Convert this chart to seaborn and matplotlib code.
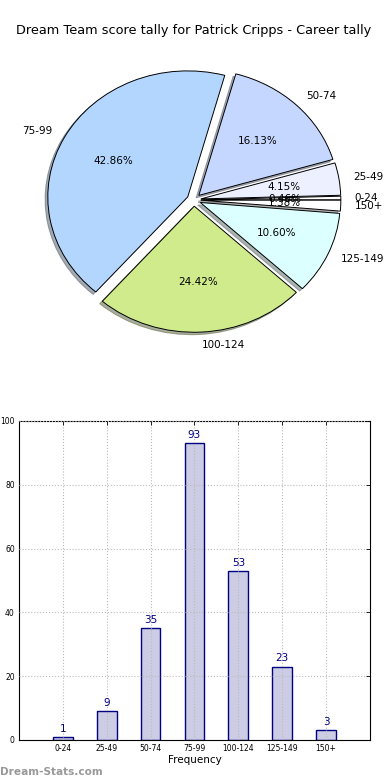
import pandas as pd
import matplotlib
matplotlib.use("Agg")
import matplotlib.pyplot as plt
import seaborn as sns

# score bands and how often each was hit
bands = ["0-24", "25-49", "50-74", "75-99", "100-124", "125-149", "150+"]
counts = [1, 9, 35, 93, 53, 23, 3]
pie_colors = ["#ffffff", "#edf0ff", "#c6d7ff", "#b3d6ff", "#d0eb8c", "#dcffff", "#ffffff"]

player = "Patrick Cripps"

sns.set_style("white")
plt.rcParams["font.family"] = ["DejaVu Sans"]
plt.rcParams.update({"text.color": "black", "axes.labelcolor": "black",
                     "xtick.color": "black", "ytick.color": "black"})

fig = plt.figure(figsize=(3.9, 7.8), dpi=100)

# --- pie (not forced to equal aspect, like the old matplotlib) ---
ax1 = fig.add_axes([0.0487, 0.5417, 0.897, 0.404])
ax1.pie(counts, labels=bands, colors=pie_colors, explode=[0.05] * len(counts),
        autopct="%1.2f%%", shadow={"ox": -0.014, "oy": -0.014, "shade": 0.6},
        startangle=0,
        wedgeprops={"edgecolor": "black", "linewidth": 0.7},
        textprops={"fontsize": 7.5, "color": "black"})
ax1.set_aspect("auto")
ax1.set_title(f"Dream Team score tally for {player} - Career tally", fontsize=9.3)

# --- bar chart ---
ax2 = fig.add_axes([0.0487, 0.0513, 0.9, 0.409])
df = pd.DataFrame({"band": bands, "count": counts})
sns.barplot(data=df, x="band", y="count", order=bands, width=0.45,
            color=(0, 0, 0.5, 0.2), edgecolor="navy", linewidth=1,
            saturation=1, ax=ax2)
for i, v in enumerate(counts):
    ax2.text(i, v + 1, str(v), ha="center", va="bottom", color="navy", fontsize=7.5)

ax2.set_xlim(-1, len(bands))
ax2.set_ylim(0, 100)
ax2.set_yticks(range(0, 101, 20))
ax2.set_xlabel("Frequency", fontsize=7.5, labelpad=1)
ax2.set_ylabel("")
ax2.grid(True, linestyle=":", color="#bbbbbb", linewidth=0.8)
ax2.set_axisbelow(False)
ax2.tick_params(direction="in", top=True, right=True, labelsize=5.5, length=3,
                width=0.6, pad=3)
for s in ax2.spines.values():
    s.set_visible(True)
    s.set_color("black")
    s.set_linewidth(0.8)

fig.text(0.0, 0.004, "Dream-Stats.com", color="#999999", fontsize=7.6,
         fontweight="bold", ha="left", va="bottom")

fig.savefig("out.png", dpi=100)
